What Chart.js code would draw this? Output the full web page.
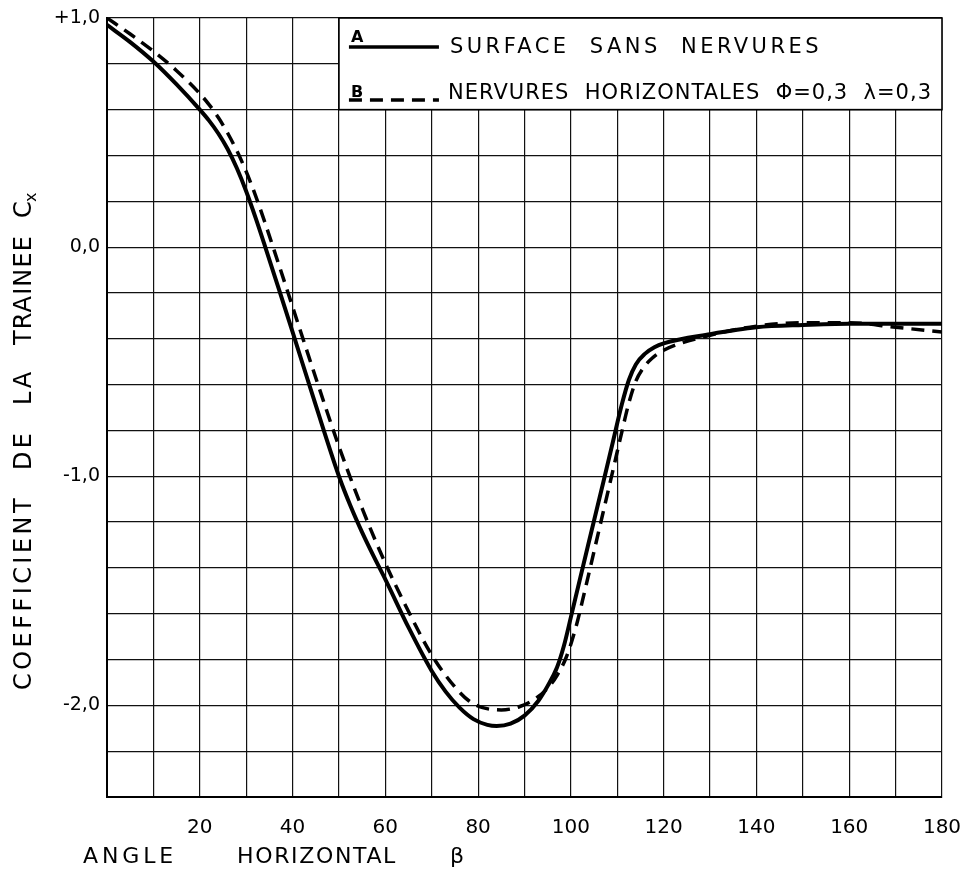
<!DOCTYPE html>
<html>
<head>
<meta charset="utf-8">
<script src="https://cdn.jsdelivr.net/npm/chart.js@4/dist/chart.umd.min.js"></script>
<style>
  html, body { margin: 0; padding: 0; background: #fff; }
  #wrap { width: 967px; height: 871px; }
</style>
</head>
<body>
<div id="wrap"><canvas id="chartCx" width="967" height="871"></canvas></div>
<script>
// === Donnees ===
const anglesA = [0, 5, 10, 15, 20, 22, 24, 26, 28, 30, 32, 34, 37, 40, 45, 50, 52.5, 55, 57.5, 60, 65, 70, 73, 76, 79, 82, 84, 87, 90, 93, 95, 97, 98.5, 100, 102, 104.5, 107, 109, 111, 112.5, 114, 116, 118, 120, 130, 140, 150, 160, 170, 180];
const cxA = [0.97, 0.895, 0.81, 0.71, 0.60, 0.552, 0.496, 0.428, 0.344, 0.244, 0.13, 0.008, -0.18, -0.37, -0.69, -1.0, -1.13, -1.245, -1.35, -1.45, -1.66, -1.85, -1.94, -2.01, -2.06, -2.085, -2.09, -2.08, -2.045, -1.98, -1.915, -1.835, -1.74, -1.615, -1.445, -1.235, -1.025, -0.855, -0.685, -0.58, -0.512, -0.465, -0.437, -0.42, -0.38, -0.35, -0.34, -0.335, -0.335, -0.335];

const anglesB = [0, 5, 10, 15, 20, 22, 24, 26, 28, 30, 32, 34, 36, 40, 45, 50, 55, 60, 65, 70, 75, 78, 81, 85, 89, 92, 95, 97, 99, 101, 103, 106, 109, 111, 112.5, 114, 115.5, 117.5, 120, 130, 140, 150, 160, 170, 180];
const cxB = [1.0, 0.93, 0.855, 0.77, 0.67, 0.622, 0.566, 0.498, 0.42, 0.33, 0.226, 0.11, -0.012, -0.26, -0.57, -0.87, -1.14, -1.38, -1.59, -1.78, -1.92, -1.98, -2.01, -2.02, -2.005, -1.975, -1.925, -1.87, -1.79, -1.665, -1.50, -1.24, -0.98, -0.805, -0.68, -0.585, -0.53, -0.485, -0.45, -0.385, -0.345, -0.33, -0.33, -0.35, -0.37];

const xLabelValues = [20, 40, 60, 80, 100, 120, 140, 160, 180];
const yLabelValues = [1, 0, -1, -2];
const yLabelTexts = ["+1,0", "0,0", "-1,0", "-2,0"];

const legendKeys = ["A", "B"];
const legendTexts = ["SURFACE  SANS  NERVURES", "NERVURES  HORIZONTALES  \u03A6=0,3  \u03BB=0,3"];

const FONT = "'DejaVu Sans', sans-serif";

// ecrit un texte en l'etirant sur une largeur donnee
function fitText(ctx, text, x, y, width) {
    ctx.letterSpacing = "0px";
    const base = ctx.measureText(text).width;
    const sp = Math.max(0, (width - base) / text.length);
    ctx.letterSpacing = sp + "px";
    ctx.fillText(text, x, y);
    ctx.letterSpacing = "0px";
}

// === Textes des axes et legende ===
const decorPlugin = {
    id: "decor",
    beforeDatasetsDraw(chart) {
        const { ctx, scales: { x, y } } = chart;
        // cadre de la legende (cache la grille)
        const l = x.getPixelForValue(50), r = x.getPixelForValue(180);
        const t = y.getPixelForValue(1.0), b = y.getPixelForValue(0.6);
        ctx.save();
        ctx.fillStyle = "#fff";
        ctx.fillRect(l, t, r - l, b - t);
        ctx.strokeStyle = "#000";
        ctx.lineWidth = 1.6;
        ctx.strokeRect(l, t, r - l, b - t);

        // lignes de la legende
        chart.data.datasets.forEach((ds, i) => {
            const rowY = i === 0 ? 47 : 100;
            ctx.strokeStyle = ds.borderColor;
            ctx.lineWidth = 3.5;
            ctx.setLineDash(ds.borderDash || []);
            ctx.beginPath();
            ctx.moveTo(l + 10, rowY);
            ctx.lineTo(l + 100, rowY);
            ctx.stroke();
            ctx.setLineDash([]);

            ctx.fillStyle = "#000";
            ctx.font = "bold 16px " + FONT;
            ctx.textBaseline = "alphabetic";
            ctx.textAlign = "left";
            ctx.fillText(legendKeys[i], l + 12, i === 0 ? 42 : 97);

            ctx.font = "21px " + FONT;
            if (i === 0) fitText(ctx, legendTexts[i], 450, 53, 372);
            else fitText(ctx, legendTexts[i], 448, 99, 484);
        });
        ctx.restore();
    },
    afterDraw(chart) {
        const { ctx } = chart;
        ctx.save();
        ctx.fillStyle = "#000";
        ctx.textBaseline = "middle";
        ctx.textAlign = "left";
        ctx.font = "22px " + FONT;
        fitText(ctx, "ANGLE", 83, 857, 94);
        fitText(ctx, "HORIZONTAL", 237, 857, 160);
        ctx.fillText("\u03B2", 450, 857);

        // titre vertical
        ctx.translate(25, 0);
        ctx.rotate(-Math.PI / 2);
        ctx.font = "24px " + FONT;
        const words = [["COEFFICIENT", 690, 195], ["DE", 470, 40], ["LA", 405, 36], ["TRAINEE", 345, 110]];
        words.forEach(([w, yy, len]) => fitText(ctx, w, -yy, 0, len));
        ctx.fillText("C", -218, 0);
        ctx.font = "16px " + FONT;
        ctx.fillText("x", -202, 7);
        ctx.restore();
    }
};

const ctx = document.getElementById("chartCx").getContext("2d");
new Chart(ctx, {
    type: "line",
    data: {
        datasets: [
            {
                label: "A",
                data: anglesA.map((a, i) => ({ x: a, y: cxA[i] })),
                borderColor: "#000",
                borderWidth: 4,
                pointRadius: 0,
                cubicInterpolationMode: "monotone",
                fill: false
            },
            {
                label: "B",
                data: anglesB.map((a, i) => ({ x: a, y: cxB[i] })),
                borderColor: "#000",
                borderWidth: 3.5,
                borderDash: [13, 8],
                pointRadius: 0,
                cubicInterpolationMode: "monotone",
                fill: false
            }
        ]
    },
    options: {
        responsive: false,
        animation: false,
        layout: { padding: { top: 18, right: 25, left: 0, bottom: 0 } },
        plugins: {
            legend: { display: false },
            tooltip: { enabled: false }
        },
        scales: {
            x: {
                type: "linear",
                min: 0,
                max: 180,
                afterFit(scale) {
                    scale.height = 74;
                    scale.paddingLeft = 0;
                    scale.paddingRight = 0;
                },
                grid: { color: "#111", lineWidth: 1.2, drawTicks: false },
                border: { color: "#000", width: 2 },
                ticks: {
                    stepSize: 10,
                    autoSkip: false,
                    maxRotation: 0,
                    padding: 19,
                    color: "#000",
                    font: { family: FONT, size: 20 },
                    callback: v => xLabelValues.includes(v) ? String(v) : ""
                }
            },
            y: {
                min: -2.4,
                max: 1.0,
                afterFit(scale) {
                    scale.width = 107;
                    scale.paddingTop = 0;
                    scale.paddingBottom = 0;
                },
                grid: { color: "#111", lineWidth: 1.2, drawTicks: false },
                border: { color: "#000", width: 2 },
                ticks: {
                    stepSize: 0.2,
                    autoSkip: false,
                    padding: 7,
                    color: "#000",
                    font: { family: FONT, size: 19 },
                    callback: v => {
                        const k = yLabelValues.indexOf(Math.round(v * 10) / 10);
                        return k >= 0 ? yLabelTexts[k] : "";
                    }
                }
            }
        }
    },
    plugins: [decorPlugin]
});
</script>
</body>
</html>
